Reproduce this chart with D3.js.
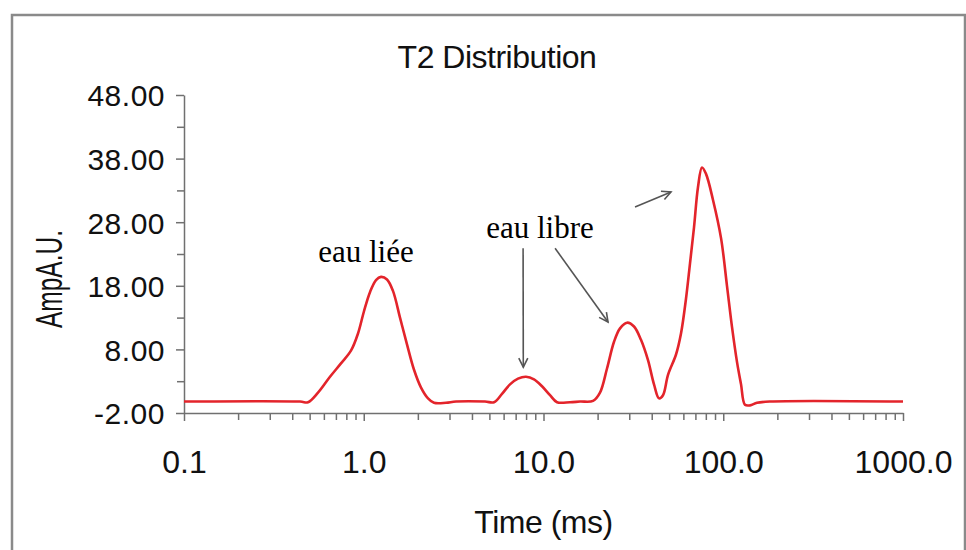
<!DOCTYPE html>
<html>
<head>
<meta charset="utf-8">
<script src="https://cdn.jsdelivr.net/npm/d3@7"></script>
<style>
  html, body { margin: 0; padding: 0; background: #fff; }
  svg { display: block; }
</style>
</head>
<body>
<svg id="chart" width="966" height="550"></svg>
<script>
// ---- data ----
const times = [0.1, 0.442, 0.4896, 0.5565, 0.649, 0.747, 0.849, 0.929, 1.003, 1.083, 1.170, 1.247, 1.347, 1.454, 1.591, 1.740, 1.904, 2.083, 2.278, 2.459, 2.868, 3.261, 4.727, 5.304, 5.877, 6.511, 7.214, 7.991, 8.854, 9.81, 10.87, 11.89, 14.04, 15.96, 18.86, 20.62, 22.56, 24.68, 26.65, 29.14, 31.88, 34.86, 38.14, 41.19, 43.92, 46.22, 49.28, 54.6, 58.2, 62.07, 65.3, 68.76, 72.35, 76.16, 80.17, 87.7, 97.2, 104.9, 111.9, 119.3, 125.6, 132.1, 140.9, 154.1, 182.0, 1000];
const amps  = [-0.2, -0.2, -0.3, 1.2, 3.7, 5.8, 7.8, 10.5, 14.0, 17.0, 18.9, 19.4, 19.0, 17.2, 13.0, 8.8, 4.8, 2.0, 0.3, -0.4, -0.4, -0.2, -0.2, -0.3, 1.0, 2.5, 3.4, 3.7, 3.3, 2.2, 0.8, -0.3, -0.3, -0.2, -0.1, 1.2, 5.0, 9.2, 11.3, 12.2, 11.6, 9.5, 6.3, 2.5, 0.3, 0.8, 4.0, 7.2, 10.5, 16.0, 21.5, 27.2, 33.5, 36.6, 35.6, 31.5, 25.5, 18.0, 11.5, 6.0, 2.5, -0.7, -0.8, -0.4, -0.2, -0.2];

const xMajorTicks = [0.1, 1, 10, 100, 1000];
const xTickLabels = ["0.1", "1.0", "10.0", "100.0", "1000.0"];
const xMinorTicks = [0.2,0.3,0.4,0.5,0.6,0.7,0.8,0.9, 2,3,4,5,6,7,8,9, 20,30,40,50,60,70,80,90, 200,300,400,500,600,700,800,900];
const yMajorTicks = [-2, 8, 18, 28, 38, 48];
const yTickLabels = ["-2.00", "8.00", "18.00", "28.00", "38.00", "48.00"];
const yMinorTicks = [3, 13, 23, 33, 43];

const chartTitle = "T2 Distribution";
const xTitle = "Time (ms)";
const yTitle = "AmpA.U.";
const annotations = [
  { text: "eau liée",  x: 366, y: 262 },
  { text: "eau libre", x: 540, y: 238 }
];
// arrows as [t0, a0, t1, a1] in data units (time, amplitude)
const arrows = [
  [7.7, 23.9, 7.72, 5.2],
  [11.6, 23.9, 22.85, 12.3],
  [32.3, 30.4, 51.2, 32.75]
];

// ---- drawing ----
const svg = d3.select("#chart");
const sans = "'Liberation Sans', Arial, sans-serif";
const serif = "'Liberation Serif', 'Times New Roman', serif";

// frame
svg.append("rect")
  .attr("x", 12).attr("y", 15).attr("width", 953).attr("height", 560)
  .attr("fill", "none").attr("stroke", "#8a8a8a").attr("stroke-width", 2.5);

const x = d3.scaleLog().domain([0.1, 1000]).range([184, 903]);
const y = d3.scaleLinear().domain([-2, 48]).range([413, 95]);

const axisColor = "#707070";

// x axis
const gx = svg.append("g").attr("transform", `translate(0,${y(-2)})`);
gx.call(d3.axisBottom(x).tickValues(xMajorTicks).tickSize(8).tickSizeOuter(0)
  .tickFormat((d, i) => xTickLabels[i]));
gx.append("g").call(d3.axisBottom(x).tickValues(xMinorTicks).tickSize(7).tickFormat(""))
  .select(".domain").remove();
gx.selectAll("path, line").attr("stroke", axisColor).attr("stroke-width", 1.5);
gx.selectAll("text").attr("font-family", sans).attr("font-size", 32)
  .attr("fill", "#111").attr("dy", null).attr("y", 60);

// y axis
const gy = svg.append("g").attr("transform", `translate(${x(0.1)},0)`);
gy.call(d3.axisLeft(y).tickValues(yMajorTicks).tickSize(8).tickSizeOuter(0)
  .tickFormat((d, i) => yTickLabels[i]));
gy.append("g").call(d3.axisLeft(y).tickValues(yMinorTicks).tickSize(7).tickFormat(""))
  .select(".domain").remove();
gy.selectAll("path, line").attr("stroke", axisColor).attr("stroke-width", 1.5);
gy.selectAll("text").attr("font-family", sans).attr("font-size", 30)
  .attr("fill", "#111").attr("x", -19).attr("dy", "0.36em")
  .attr("letter-spacing", 0.5);

// curve
const line = d3.line()
  .x((d, i) => x(times[i]))
  .y((d, i) => y(amps[i]))
  .curve(d3.curveCatmullRom.alpha(0.5));
svg.append("path")
  .datum(times)
  .attr("d", line)
  .attr("fill", "none")
  .attr("stroke", "#e3242b")
  .attr("stroke-width", 2.6)
  .attr("stroke-linejoin", "round");

// titles
svg.append("text").attr("x", 497).attr("y", 68).attr("text-anchor", "middle")
  .attr("font-family", sans).attr("font-size", 32).attr("fill", "#111")
  .attr("letter-spacing", -0.5).text(chartTitle);
svg.append("text").attr("x", (x(0.1) + x(1000)) / 2).attr("y", 533).attr("text-anchor", "middle")
  .attr("font-family", sans).attr("font-size", 32).attr("fill", "#111")
  .attr("letter-spacing", -0.5).text(xTitle);
svg.append("text").attr("transform", "translate(62,279) rotate(-90)")
  .attr("text-anchor", "middle")
  .attr("font-family", sans).attr("font-size", 36).attr("fill", "#111")
  .attr("textLength", 98).attr("lengthAdjust", "spacingAndGlyphs")
  .text(yTitle);

// annotations
svg.selectAll("text.ann").data(annotations).enter().append("text")
  .attr("class", "ann")
  .attr("x", d => d.x).attr("y", d => d.y).attr("text-anchor", "middle")
  .attr("font-family", serif).attr("font-size", 31).attr("fill", "#000")
  .text(d => d.text);

// arrows
const defs = svg.append("defs");
defs.append("marker").attr("id", "ah")
  .attr("viewBox", "-10 -6 12 12").attr("refX", 0).attr("refY", 0)
  .attr("markerWidth", 12).attr("markerHeight", 12).attr("markerUnits", "userSpaceOnUse")
  .attr("orient", "auto")
  .append("path").attr("d", "M-9,-4.5 L0,0 L-9,4.5")
  .attr("fill", "none").attr("stroke", "#555").attr("stroke-width", 1.6);

svg.selectAll("line.arrow").data(arrows).enter().append("line")
  .attr("class", "arrow")
  .attr("x1", d => x(d[0])).attr("y1", d => y(d[1]))
  .attr("x2", d => x(d[2])).attr("y2", d => y(d[3]))
  .attr("stroke", "#555").attr("stroke-width", 1.6)
  .attr("marker-end", "url(#ah)");
</script>
</body>
</html>
